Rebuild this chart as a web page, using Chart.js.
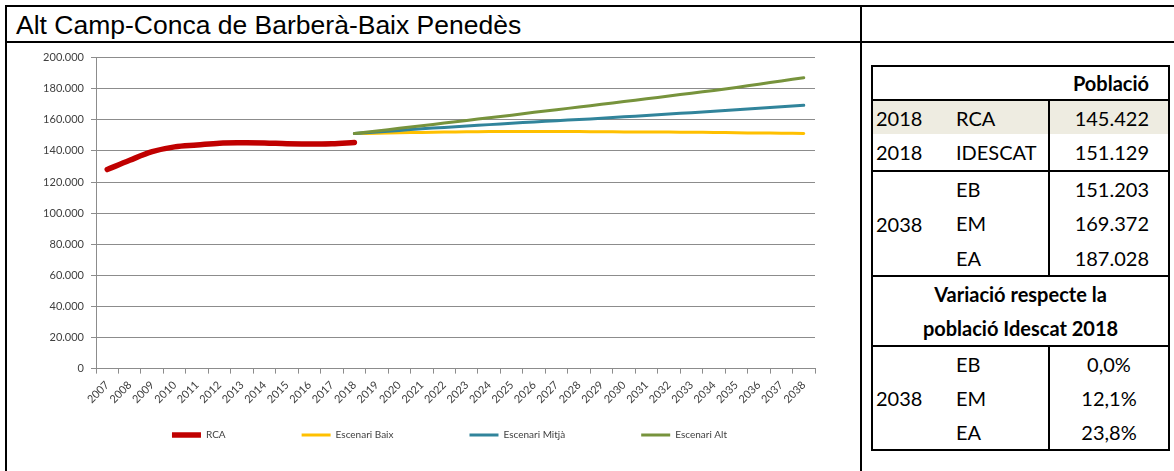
<!DOCTYPE html>
<html lang="ca">
<head>
<meta charset="utf-8">
<title>Alt Camp-Conca de Barberà-Baix Penedès</title>
<script src="https://cdn.jsdelivr.net/npm/chart.js@4.4.1/dist/chart.umd.min.js"></script>
<style>
body{margin:0;width:1174px;height:471px;background:#fff;position:relative;overflow:hidden;font-family:Lato,sans-serif;}
.rule{position:absolute;background:#000;}
#title{position:absolute;left:16px;top:12px;font:26.5px/26.5px "Liberation Sans",Arial,sans-serif;color:#000;white-space:nowrap;}
#chartBox{position:absolute;left:7px;top:44px;width:853px;height:427px;}
#resum{position:absolute;left:871px;top:65px;width:297px;border-collapse:collapse;table-layout:fixed;font:20px Lato,sans-serif;color:#000;border:2px solid #000;}
#resum td{padding:0;white-space:nowrap;line-height:20px;}
#resum .any{padding-left:3px;}
#resum .cat{padding-left:13px;}
#resum .num{text-align:right;padding-right:19px;}
#resum .pct{text-align:center;}
#resum .b{font-weight:bold;}
#resum .var{text-align:center;font-weight:bold;}
#resum .vl{border-left:2px solid #000;}
#resum .sep td,#resum td.sep{border-bottom:2px solid #000;}
#resum .rca td{background:#EEECE1;}
</style>
</head>
<body>

<div class="rule" style="left:5px;top:5px;width:1169px;height:2px"></div>
<div class="rule" style="left:5px;top:41px;width:1169px;height:2px"></div>
<div class="rule" style="left:5px;top:5px;width:2px;height:466px"></div>
<div class="rule" style="left:860px;top:5px;width:2px;height:466px"></div>

<div id="title">Alt Camp-Conca de Barberà-Baix Penedès</div>

<div id="chartBox"><canvas id="poblacioChart"></canvas></div>

<table id="resum">
<colgroup><col style="width:71px"><col style="width:106px"><col style="width:120px"></colgroup>
<tr class="sep" style="height:34px"><td></td><td></td><td class="num b">Població</td></tr>
<tr class="rca" style="height:34px"><td class="any">2018</td><td class="cat">RCA</td><td class="num vl">145.422</td></tr>
<tr class="sep" style="height:37px"><td class="any">2018</td><td class="cat">IDESCAT</td><td class="num vl">151.129</td></tr>
<tr style="height:34px"><td class="any sep" rowspan="3">2038</td><td class="cat">EB</td><td class="num vl">151.203</td></tr>
<tr style="height:35px"><td class="cat">EM</td><td class="num vl">169.372</td></tr>
<tr class="sep" style="height:36px"><td class="cat">EA</td><td class="num vl">187.028</td></tr>
<tr style="height:35px"><td colspan="3" class="var">Variació respecte la</td></tr>
<tr class="sep" style="height:35px"><td colspan="3" class="var">població Idescat 2018</td></tr>
<tr style="height:35px"><td class="any" rowspan="3">2038</td><td class="cat">EB</td><td class="pct vl">0,0%</td></tr>
<tr style="height:34px"><td class="cat">EM</td><td class="pct vl">12,1%</td></tr>
<tr style="height:35px"><td class="cat">EA</td><td class="pct vl">23,8%</td></tr>
</table>

<script>
//======================================
// Data
//======================================

const years = [
    "2007","2008","2009","2010","2011","2012","2013","2014",
    "2015","2016","2017","2018","2019","2020","2021","2022",
    "2023","2024","2025","2026","2027","2028","2029","2030",
    "2031","2032","2033","2034","2035","2036","2037","2038"
];

// 2007-2018
const rcaValues = [128000,134000,139500,142600,143800,145000,145200,145100,144600,144500,144600,145422];

// 2018-2038
const escenariBaix = [151129,151400,151700,151900,152100,152300,152400,152500,152500,152500,152400,
                      152300,152200,152200,152100,152000,151900,151700,151500,151400,151203];
const escenariMitja = [151129,152200,153200,154200,155100,156000,156900,157800,158600,159400,160200,
                       161000,161900,162800,163700,164600,165500,166500,167400,168400,169372];
const escenariAlt = [151129,152800,154500,156200,157900,159600,161300,163000,164800,166500,168200,
                     170000,171700,173500,175300,177100,178900,180800,182900,185000,187028];

const yTickStep = 20000;
const yMax = 200000;


//======================================
// Helpers
//======================================

function formatThousands(value){

    return value.toString().replace(/\B(?=(\d{3})+(?!\d))/g,".");

}

function padEnd(values){

    return values.concat(Array(years.length-values.length).fill(null));

}

function padStart(values){

    return Array(years.length-values.length).fill(null).concat(values);

}


//======================================
// Chart
//======================================

const gridColor = "#8C8C8C";
const labelColor = "#404040";

Chart.defaults.font.family = "Lato";

// the wide item padding pushes the legend row down, so open its box upwards
const legendLift = {
    id:"legendLift",
    afterLayout(chart){
        const legend = chart.legend;
        legend.top = legend.bottom - 97;
        legend.left -= 6;
        legend.right -= 6;
    }
};

const ctx = document.getElementById("poblacioChart");

new Chart(ctx,{

    type:"line",

    data:{

        labels:years,

        datasets:[
            {
                label:"RCA",
                data:padEnd(rcaValues),
                borderColor:"#C00000",
                backgroundColor:"#C00000",
                borderWidth:5.5,
                order:0
            },
            {
                label:"Escenari Baix",
                data:padStart(escenariBaix),
                borderColor:"#FFC000",
                backgroundColor:"#FFC000",
                borderWidth:3,
                order:3
            },
            {
                label:"Escenari Mitjà",
                data:padStart(escenariMitja),
                borderColor:"#31849B",
                backgroundColor:"#31849B",
                borderWidth:3,
                order:2
            },
            {
                label:"Escenari Alt",
                data:padStart(escenariAlt),
                borderColor:"#77933C",
                backgroundColor:"#77933C",
                borderWidth:3,
                order:1
            }
        ]

    },

    options:{

        responsive:true,
        maintainAspectRatio:false,
        animation:false,

        layout:{
            padding:{left:6,right:45,top:13,bottom:20}
        },

        elements:{
            point:{radius:0,hoverRadius:0},
            line:{tension:0.35,borderCapStyle:"round",borderJoinStyle:"round",fill:false}
        },

        scales:{

            x:{
                offset:true,
                grid:{offset:true,drawOnChartArea:false,tickLength:5,color:gridColor},
                border:{color:gridColor},
                ticks:{
                    autoSkip:false,
                    minRotation:45,
                    maxRotation:45,
                    padding:5,
                    color:labelColor,
                    font:{size:11}
                }
            },

            y:{
                min:0,
                max:yMax,
                afterFit(scale){ scale.width = 83; },
                grid:{color:gridColor,tickLength:5},
                border:{color:gridColor},
                ticks:{
                    stepSize:yTickStep,
                    padding:7,
                    color:labelColor,
                    font:{size:11},
                    callback:(v)=>formatThousands(v)
                }
            }

        },

        plugins:{

            tooltip:{enabled:false},

            legend:{
                position:"bottom",
                fullSize:false,
                maxHeight:40,
                labels:{
                    usePointStyle:true,
                    pointStyle:"line",
                    pointStyleWidth:29,
                    padding:76,
                    color:labelColor,
                    font:{size:10},
                    sort:(a,b)=>a.datasetIndex-b.datasetIndex
                }
            }

        }

    },

    plugins:[legendLift]

});
</script>
</body>
</html>
